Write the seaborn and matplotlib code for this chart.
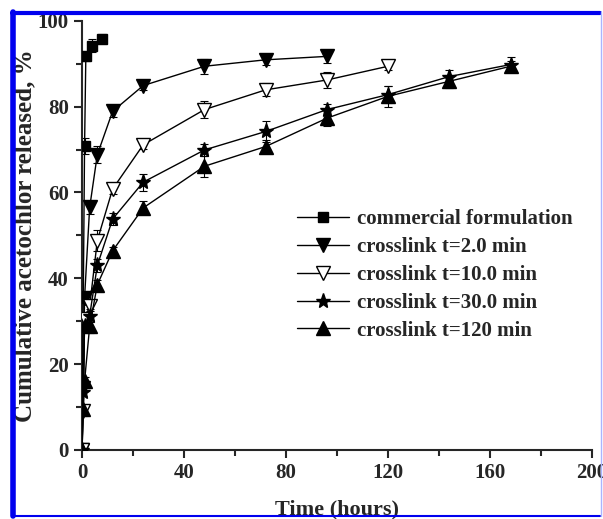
import matplotlib.pyplot as plt
import numpy as np
import pandas as pd
import seaborn as sns
from matplotlib.lines import Line2D
from matplotlib.ticker import MultipleLocator

# release data (time in hours, cumulative release in %)
t_commercial = [0, 0.5, 1, 1.5, 4, 8]
y_commercial = [0, 35.5, 70.8, 91.7, 94.2, 95.8]
e_commercial = [0, 1.0, 1.8, 1.0, 1.5, 1.0]

t_cross = [0, 0.5, 1, 3, 6, 12, 24, 48, 72, 96, 120, 144, 168]
y_2min = [0, 14.5, 35.5, 56.5, 68.8, 78.9, 84.9, 89.4, 90.9, 91.7]
e_2min = [0, 1.0, 1.2, 1.5, 2.0, 1.3, 1.0, 1.8, 1.2, 1.5]
y_10min = [0, 9.0, 30.5, 33.5, 48.8, 60.8, 71.1, 79.3, 83.9, 86.2, 89.4]
e_10min = [0, 1.0, 1.0, 1.2, 2.5, 1.2, 1.0, 2.0, 1.5, 1.8, 0.8]
y_30min = [0, 13.5, 29.0, 31.3, 43.0, 53.8, 62.4, 69.9, 74.2, 79.3, 82.8, 87.0, 89.8]
e_30min = [0, 1.0, 1.2, 1.5, 1.5, 1.5, 2.0, 1.5, 2.5, 1.2, 2.0, 1.5, 1.8]
y_120min = [0, 9.5, 16.0, 28.8, 38.5, 46.4, 56.4, 66.1, 70.7, 77.3, 82.4, 85.9, 89.4]
e_120min = [0, 1.0, 1.0, 1.5, 1.2, 1.0, 1.5, 2.5, 1.5, 1.8, 2.5, 1.5, 1.2]

labels = ['commercial formulation', 'crosslink t=2.0 min', 'crosslink t=10.0 min',
          'crosslink t=30.0 min', 'crosslink t=120 min']
markers = ['s', 'v', 'v', '*', '^']
fills = ['black', 'black', 'white', 'black', 'black']
msizes = [7.5, 10, 10, 11, 10]

series = [
    (t_commercial, y_commercial, e_commercial),
    (t_cross[:len(y_2min)], y_2min, e_2min),
    (t_cross[:len(y_10min)], y_10min, e_10min),
    (t_cross, y_30min, e_30min),
    (t_cross, y_120min, e_120min),
]

rows = []
for lab, (t, y, e) in zip(labels, series):
    for ti, yi, ei in zip(t, y, e):
        rows.append({'time': ti, 'release': yi, 'err': ei, 'sample': lab})
df = pd.DataFrame(rows)

sns.set_style('ticks')
plt.rcParams['font.family'] = ['Liberation Serif', 'DejaVu Serif']
plt.rcParams['font.weight'] = 'bold'

fig = plt.figure(figsize=(6.03, 5.19), dpi=100)
ax = fig.add_axes([0.136, 0.133, 0.846, 0.827])

for lab, m, fc, ms in zip(labels, markers, fills, msizes):
    d = df[df['sample'] == lab]
    ax.errorbar(d['time'], d['release'], yerr=d['err'], fmt='none',
                ecolor='black', elinewidth=0.8, capsize=3, capthick=0.8,
                zorder=2)
    sns.lineplot(data=d, x='time', y='release', ax=ax, color='black',
                 linewidth=1, marker=m, markersize=ms, markerfacecolor=fc,
                 markeredgecolor='black', markeredgewidth=1,
                 legend=False, zorder=3)

ax.set_xlim(0, 200)
ax.set_ylim(0, 100)
ax.xaxis.set_major_locator(MultipleLocator(40))
ax.xaxis.set_minor_locator(MultipleLocator(20))
ax.yaxis.set_major_locator(MultipleLocator(20))
ax.yaxis.set_minor_locator(MultipleLocator(10))
ax.tick_params(which='major', length=6, width=1.5, labelsize=15, direction='out')
ax.tick_params(which='minor', length=4, width=1.5, direction='out')
for lbl in ax.get_xticklabels() + ax.get_yticklabels():
    lbl.set_fontweight('bold')
for s in ['left', 'bottom']:
    ax.spines[s].set_linewidth(1.5)
sns.despine(ax=ax)

ax.set_xlabel('Time (hours)', fontsize=16, fontweight='bold', labelpad=12)
ax.set_ylabel('Cumulative acetochlor released, %', fontsize=18,
              fontweight='bold', labelpad=1)

handles = [Line2D([], [], color='black', linewidth=1, marker=m, markersize=ms,
                  markerfacecolor=fc, markeredgecolor='black')
           for m, fc, ms in zip(markers, fills, msizes)]
ax.legend(handles, labels, loc='upper left', bbox_to_anchor=(0.385, 0.605),
          frameon=False, handlelength=2.5, handletextpad=0.35,
          labelspacing=0.38, prop={'size': 15, 'weight': 'bold'})

# blue frame around the figure
fig.add_artist(Line2D([0.02, 0.995], [0.975, 0.975], color='#0000ee',
                      linewidth=3, transform=fig.transFigure))
fig.add_artist(Line2D([0.022, 0.022], [0.005, 0.977], color='#0000ee',
                      linewidth=4, transform=fig.transFigure))
fig.add_artist(Line2D([0.02, 0.995], [0.005, 0.005], color='#0000ee',
                      linewidth=1.5, transform=fig.transFigure))
fig.add_artist(Line2D([0.996, 0.996], [0.005, 0.977], color='#aab4ff',
                      linewidth=1, transform=fig.transFigure))

fig.savefig('out.png', dpi=100)
